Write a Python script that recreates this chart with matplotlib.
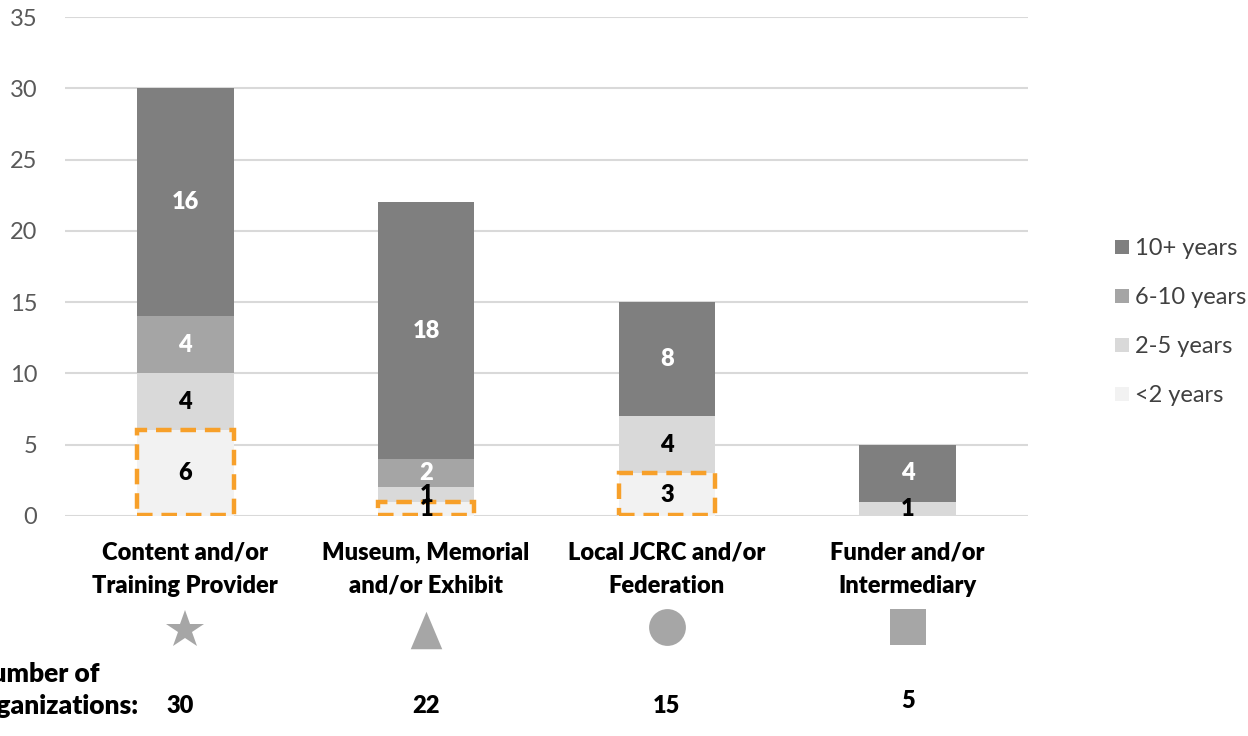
import matplotlib
matplotlib.use("Agg")
import matplotlib.pyplot as plt
import matplotlib.transforms as mtransforms
from matplotlib.patches import Rectangle
from matplotlib.lines import Line2D
import numpy as np

plt.rcParams['font.family'] = ['Lato', 'DejaVu Sans']

categories = ["Content and/or\nTraining Provider", "Museum, Memorial\nand/or Exhibit",
              "Local JCRC and/or\nFederation", "Funder and/or\nIntermediary"]
series_names = ["<2 years", "2-5 years", "6-10 years", "10+ years"]
lt2 = [6, 1, 3, 0]
y2_5 = [4, 1, 4, 1]
y6_10 = [4, 2, 0, 0]
y10p = [16, 18, 8, 4]
totals = [30, 22, 15, 5]
highlight = [True, True, True, False]
yticks = [0, 5, 10, 15, 20, 25, 30, 35]

colors = ["#F2F2F2", "#D9D9D9", "#A5A5A5", "#7F7F7F"]
label_colors = ["black", "black", "white", "white"]
orange = "#F7A02A"
BOLD = 'heavy'

fig = plt.figure(figsize=(12.48, 7.36), dpi=100)
ax = fig.add_axes([65/1248, 1-516/736, (1028-65)/1248, (516-17)/736])

x = np.arange(len(categories))
w = 0.40
bottom = np.zeros(len(categories))
series = [lt2, y2_5, y6_10, y10p]
for vals, col, lc, name in zip(series, colors, label_colors, series_names):
    vals = np.array(vals, dtype=float)
    ax.bar(x, vals, w, bottom=bottom, color=col, label=name, zorder=2)
    for xi, v, bt in zip(x, vals, bottom):
        if v > 0:
            ax.text(xi, bt + v/2, f"{int(v)}", ha='center', va='center',
                    color=lc, fontsize=17, fontweight=BOLD, zorder=5)
    bottom += vals

for xi, v, h in zip(x, lt2, highlight):
    if h and v > 0:
        r = Rectangle((xi - w/2, 0.1), w, v - 0.1, fill=False, edgecolor=orange,
                      linewidth=3.2, linestyle=(0, (3.5, 2.0)), zorder=4)
        ax.add_patch(r)

ax.set_xlim(-0.5, 3.5)
ax.set_ylim(0, 35)
ax.set_yticks(yticks)
ax.set_yticklabels([str(t) for t in yticks])
ax.tick_params(axis='y', length=0, labelsize=17, labelcolor="#595959", pad=20)
ax.tick_params(axis='x', length=0, labelbottom=False)
ax.yaxis.grid(True, color="#D9D9D9", linewidth=1.5, zorder=0)
ax.set_axisbelow(True)
for s in ax.spines.values():
    s.set_visible(False)

trans = mtransforms.blended_transform_factory(ax.transData, fig.transFigure)
for xi, c in zip(x, categories):
    ax.text(xi, 1-569/736, c, transform=trans, ha='center', va='center',
            fontsize=17, fontweight=BOLD, linespacing=1.62, clip_on=False)

markers = ['*', [(-0.42, -0.5), (0.42, -0.5), (0, 0.5)], 'o', 's']
msizes = [29, 27, 26.5, 26.5]
my = [1-630/736, 1-630/736, 1-627/736, 1-627/736]
for xi, m, ms, yy in zip(x, markers, msizes, my):
    ax.plot([xi], [yy], transform=trans, marker=m, markersize=ms, color="#A6A6A6",
            markeredgewidth=0, linestyle='none', clip_on=False)

ny = [1-706/736, 1-706/736, 1-706/736, 1-701/736]
for xi, t, yy in zip(x, totals, ny):
    ax.text(xi - 0.02 if t == totals[0] else xi, yy, str(t), transform=trans, ha='center', va='center',
            fontsize=17, fontweight=BOLD, clip_on=False)

fig.text(138/1248, 1-690/736, "Number of\norganizations:", ha='right', va='center',
         multialignment='left', fontsize=19, fontweight=BOLD, linespacing=1.35)

handles = [Line2D([], [], marker='s', color=c, markersize=10, linestyle='none', markeredgewidth=0)
           for c in colors[::-1]]
fig.legend(handles, series_names[::-1], loc='upper left', bbox_to_anchor=(1091/1248, 1-217/736),
           frameon=False, fontsize=17, labelspacing=1.18, handletextpad=0.15, handlelength=0.8,
           labelcolor="#404040")

fig.savefig("out.png", dpi=100)
